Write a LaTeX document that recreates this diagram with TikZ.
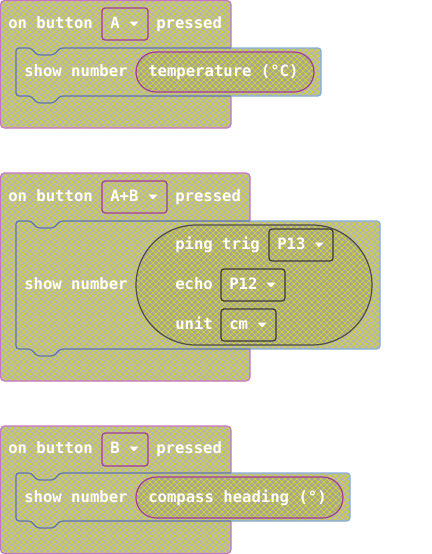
\documentclass[tikz,border=0pt]{standalone}
\usepackage{fontspec}
\setmonofont{DejaVu Sans Mono}
\usetikzlibrary{patterns}

% diagonal cross-hatch used as the block texture
\pgfdeclarepatternformonly{xhatch}{\pgfqpoint{-1pt}{-1pt}}{\pgfqpoint{5.5pt}{5.5pt}}{\pgfqpoint{4.5pt}{4.5pt}}{%
  \pgfsetlinewidth{0.5pt}%
  \pgfpathmoveto{\pgfqpoint{-1pt}{-1pt}}%
  \pgfpathlineto{\pgfqpoint{5.5pt}{5.5pt}}%
  \pgfpathmoveto{\pgfqpoint{-1pt}{5.5pt}}%
  \pgfpathlineto{\pgfqpoint{5.5pt}{-1pt}}%
  \pgfusepath{stroke}%
}

\definecolor{bggray}{HTML}{B5B5B5}
\definecolor{repgray}{HTML}{A6A596}
\definecolor{hatchyellow}{HTML}{D6D62A}
\definecolor{hatpink}{HTML}{C673C9}
\definecolor{dropmag}{HTML}{A33A98}
\definecolor{stmtdark}{HTML}{5A74B4}
\definecolor{stmtlight}{HTML}{84ADE0}
\definecolor{repborder}{HTML}{4D4D4D}
\definecolor{dropgray}{HTML}{3A3A3A}

\newcommand{\stmtshape}[5]{% x0, y0, x1, y1, notch depth
  (#1,{(#2+#4)/2}) -- (#1,#2) -- (31,#2) -- (37,#2+#5) -- (54,#2+#5) -- (60,#2)
  -- (#3,#2) -- (#3,#4) -- (60,#4) -- (54,#4+#5) -- (37,#4+#5) -- (31,#4)
  -- (#1,#4) -- cycle}
\newcommand{\droptri}[2]{%
  \fill[white, rounded corners=0.5pt] (#1-4.5,#2-2.5) -- (#1+4.5,#2-2.5) -- (#1,#2+2.5) -- cycle;}

\begin{document}
\begin{tikzpicture}[x=0.75pt, y=-0.75pt,
  texture/.style={pattern=xhatch, pattern color=hatchyellow},
  hatblock/.style={preaction={fill=bggray}, texture, draw=hatpink, line width=0.9pt, rounded corners=3pt},
  stmtfill/.style={preaction={fill=bggray}, texture, rounded corners=2.25pt},
  stmtedge/.style={line width=0.9pt, rounded corners=2.25pt},
  reporter/.style={preaction={fill=repgray}, texture, line width=0.9pt},
  dropbox/.style={line width=0.9pt, rounded corners=2.25pt},
  lbl/.style={anchor=base west, inner sep=0pt, text=white,
    font=\ttfamily\bfseries\fontsize{11.7}{14}\selectfont}]
\useasboundingbox (0,0) rectangle (432,554);

% ---------------- on button A pressed ----------------
\path[hatblock] (0.5,0.5) rectangle (231,128);
\path[stmtfill] \stmtshape{16}{48}{321}{96}{7};
\begin{scope}
  \clip (0,40) rectangle (231,110);
  \draw[stmtedge, stmtdark] \stmtshape{16}{48}{321}{96}{7};
\end{scope}
\begin{scope}
  \clip (231,40) rectangle (432,110);
  \draw[stmtedge, stmtlight] \stmtshape{16}{48}{321}{96}{7};
\end{scope}
\draw[reporter, draw=dropmag, rounded corners=15pt] (136,52) rectangle (314,92);
\draw[dropbox, draw=dropmag] (102,8) rectangle (148,40);
\droptri{134}{24}
\node[lbl] (onA) at (8,28.3) {on button};
\node[lbl] (keyA) at (110,28.3) {A};
\node[lbl] (prA) at (156,28.3) {pressed};
\node[lbl] (showA) at (24,76.7) {show number};
\node[lbl] (temp) at (148,76.7) {temperature (°C)};

% ---------------- on button A+B pressed ----------------
\path[hatblock] (0.5,173) rectangle (250,381);
\path[stmtfill] \stmtshape{16}{221}{380}{349}{7};
\begin{scope}
  \clip (0,210) rectangle (250,365);
  \draw[stmtedge, stmtdark] \stmtshape{16}{221}{380}{349}{7};
\end{scope}
\begin{scope}
  \clip (250,210) rectangle (432,365);
  \draw[stmtedge, stmtlight] \stmtshape{16}{221}{380}{349}{7};
\end{scope}
\draw[reporter, draw=repborder, rounded corners=45pt] (136,225) rectangle (372,345);
\draw[dropbox, draw=dropmag] (102,181) rectangle (167,213);
\droptri{153}{197}
\draw[dropbox, draw=dropgray] (269,229) rectangle (333,261);
\droptri{319}{245}
\draw[dropbox, draw=dropgray] (221,269) rectangle (285,301);
\droptri{271}{285}
\draw[dropbox, draw=dropgray] (221,309) rectangle (276,341);
\droptri{262}{325}
\node[lbl] (onAB) at (8,201.5) {on button};
\node[lbl] (keyAB) at (110,201.5) {A+B};
\node[lbl] (prAB) at (175,201.5) {pressed};
\node[lbl] (showAB) at (24,289.5) {show number};
\node[lbl] (trig) at (175,249.5) {ping trig};
\node[lbl] (pinT) at (277,249.5) {P13};
\node[lbl] (echo) at (175,289.5) {echo};
\node[lbl] (pinE) at (229,289.5) {P12};
\node[lbl] (unit) at (175,329.5) {unit};
\node[lbl] (cm) at (229,329.5) {cm};

% ---------------- on button B pressed ----------------
\path[hatblock] (0.5,426) rectangle (231,553.5);
\path[stmtfill] \stmtshape{16}{473}{350}{521}{7};
\begin{scope}
  \clip (0,465) rectangle (231,540);
  \draw[stmtedge, stmtdark] \stmtshape{16}{473}{350}{521}{7};
\end{scope}
\begin{scope}
  \clip (231,465) rectangle (432,540);
  \draw[stmtedge, stmtlight] \stmtshape{16}{473}{350}{521}{7};
\end{scope}
\draw[reporter, draw=dropmag, rounded corners=15.3pt] (136,477) rectangle (343,518);
\draw[dropbox, draw=dropmag] (102,433) rectangle (148,466);
\droptri{134}{449}
\node[lbl] (onB) at (8,453) {on button};
\node[lbl] (keyB) at (110,453) {B};
\node[lbl] (prB) at (156,453) {pressed};
\node[lbl] (showB) at (24,502) {show number};
\node[lbl] (compass) at (148,502) {compass heading (°)};
\end{tikzpicture}
\end{document}
